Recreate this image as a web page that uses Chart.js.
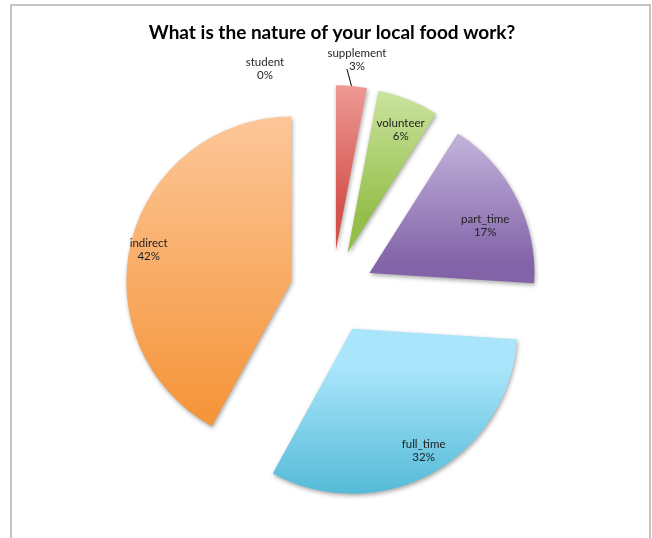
<!DOCTYPE html>
<html>
<head>
<meta charset="utf-8">
<title>Local food work</title>
<script src="https://cdn.jsdelivr.net/npm/chart.js@4.4.1/dist/chart.umd.min.js"></script>
<style>
  html, body { margin: 0; padding: 0; background: #fff; overflow: hidden; }
  #wrap { position: relative; width: 652px; height: 538px; }
  #frame {
    position: absolute; left: 10px; top: 4px; width: 637px; height: 600px;
    border: 2px solid #c4c4c4;
  }
  #chart { position: absolute; left: 0; top: 0; }
</style>
</head>
<body>
<div id="wrap">
  <div id="frame"></div>
  <canvas id="chart" width="652" height="538"></canvas>
</div>
<script>
// Survey answers, share of respondents in percent
const categories = ["student", "supplement", "volunteer", "part_time", "full_time", "indirect"];
const shares = [0, 3, 6, 17, 32, 42];
const chartTitle = "What is the nature of your local food work?";

// Slice fills: light at the top of each slice, full colour at the bottom
const sliceTop = ["#a7bfe0", "#f7b2ae", "#dcefb9", "#cdc0e3", "#aae6fb", "#fdc89c"];
const sliceBottom = ["#4f81bd", "#d4524c", "#95bf4b", "#8263a8", "#3caecd", "#f5953a"];

// Label placement: distance from the slice tip (fraction of radius) and a small nudge
const labelRadius = [1.1, 1.16, 0.81, 0.76, 0.86, 0.88];
const labelShiftX = [-67, 3, 4, 4, 3, -2];
const labelShiftY = [0, 0, 1, 10, -2, 4];

const EXPLODE = 42;   // px each slice is pulled out from the centre
const RADIUS = 165;

function sliceDirection(arc) {
  const mid = (arc.startAngle + arc.endAngle) / 2;
  return { x: Math.cos(mid), y: Math.sin(mid) };
}

// Draws every slice pulled out along its middle angle, with a gradient and soft shadow
const explodedSlices = {
  id: "explodedSlices",
  beforeDatasetsDraw(chart) {
    const ctx = chart.ctx;
    const arcs = chart.getDatasetMeta(0).data;
    arcs.forEach((arc, i) => {
      if (arc.circumference === 0) return;
      const dir = sliceDirection(arc);
      const dx = dir.x * EXPLODE, dy = dir.y * EXPLODE;

      // vertical extent of the slice, for the gradient
      let top = arc.y, bottom = arc.y;
      for (let k = 0; k <= 40; k++) {
        const a = arc.startAngle + (arc.endAngle - arc.startAngle) * k / 40;
        const py = arc.y + Math.sin(a) * arc.outerRadius;
        top = Math.min(top, py);
        bottom = Math.max(bottom, py);
      }
      const grad = ctx.createLinearGradient(0, top + dy, 0, bottom + dy);
      grad.addColorStop(0, sliceTop[i]);
      grad.addColorStop(1, sliceBottom[i]);
      arc.options = Object.assign({}, arc.options, { backgroundColor: grad });

      ctx.save();
      ctx.translate(dx, dy);
      ctx.shadowColor = "rgba(0, 0, 0, 0.35)";
      ctx.shadowBlur = 4;
      ctx.shadowOffsetX = 1;
      ctx.shadowOffsetY = 2;
      arc.draw(ctx);
      ctx.restore();
    });
    // slices are drawn above, skip the default pass
    return false;
  }
};

// Category name and percentage for each slice (afterDraw, since the dataset pass is skipped)
const sliceLabels = {
  id: "sliceLabels",
  afterDraw(chart) {
    const ctx = chart.ctx;
    const arcs = chart.getDatasetMeta(0).data;
    const total = shares.reduce((a, b) => a + b, 0);
    ctx.save();
    arcs.forEach((arc, i) => {
      const dir = sliceDirection(arc);
      const tipX = arc.x + dir.x * EXPLODE;
      const tipY = arc.y + dir.y * EXPLODE;
      const r = arc.outerRadius;
      const x = tipX + dir.x * r * labelRadius[i] + labelShiftX[i];
      const y = tipY + dir.y * r * labelRadius[i] + labelShiftY[i];

      if (labelRadius[i] > 1 && shares[i] > 0) {
        ctx.strokeStyle = "#000";
        ctx.lineWidth = 1;
        ctx.beginPath();
        ctx.moveTo(x - 10, y + 9.5);
        ctx.lineTo(tipX + dir.x * r, tipY + dir.y * r);
        ctx.stroke();
      }

      ctx.fillStyle = "#1f1f1f";
      ctx.font = "11.5px Lato";
      ctx.textAlign = "center";
      ctx.textBaseline = "middle";
      ctx.fillText(categories[i], x, y - 6.5);
      ctx.fillText(Math.round(shares[i] / total * 100) + "%", x, y + 6.5);
    });
    ctx.restore();
  }
};

const chart = new Chart(document.getElementById("chart"), {
  type: "pie",
  data: {
    labels: categories,
    datasets: [{
      data: shares,
      backgroundColor: sliceBottom,
      borderWidth: 0
    }]
  },
  options: {
    responsive: false,
    animation: false,
    events: [],
    radius: RADIUS,
    layout: { padding: { left: 12, right: 0, top: 21, bottom: 17.8 } },
    plugins: {
      legend: { display: false },
      tooltip: { enabled: false },
      title: {
        display: true,
        text: chartTitle,
        color: "#000",
        font: { family: "Lato", size: 19, weight: "bold" },
        padding: { top: 0, bottom: 20 }
      }
    }
  },
  plugins: [explodedSlices, sliceLabels]
});
</script>
</body>
</html>
